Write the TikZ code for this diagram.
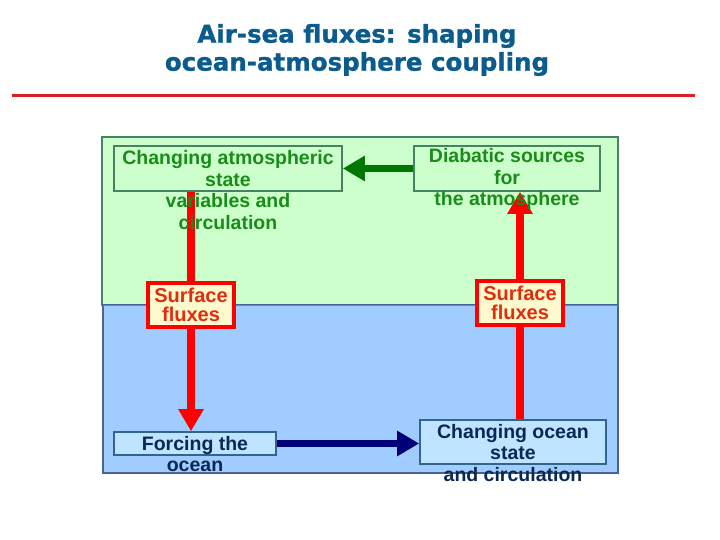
\documentclass[tikz,border=0pt]{standalone}
\usepackage{fontspec}
\setmainfont{Liberation Sans}
\newfontfamily\titlefont{DejaVu Sans}[BoldFeatures={FakeBold=1.2}]
\usetikzlibrary{arrows.meta}
\definecolor{titleblue}{RGB}{11,92,140}
\definecolor{rulered}{RGB}{220,30,30}
\definecolor{airfill}{RGB}{204,255,204}
\definecolor{airborder}{RGB}{70,130,100}
\definecolor{airtext}{RGB}{25,140,25}
\definecolor{seafill}{RGB}{160,204,255}
\definecolor{seaborder}{RGB}{70,100,150}
\definecolor{seabox}{RGB}{190,228,255}
\definecolor{seaboxborder}{RGB}{50,100,140}
\definecolor{seatext}{RGB}{10,40,85}
\definecolor{fluxfill}{RGB}{255,250,205}
\definecolor{fluxtext}{RGB}{225,45,15}
\definecolor{divider}{RGB}{200,100,110}
\definecolor{arrgreen}{RGB}{0,120,0}
\definecolor{arrnavy}{RGB}{0,0,120}
\pgfdeclarelayer{bg}
\pgfdeclarelayer{mid}
\pgfsetlayers{bg,mid,main}
\tikzset{
  airbox/.style={draw=airborder, line width=1.6pt, fill=none, inner sep=0pt},
  seaboxst/.style={draw=seaboxborder, line width=1.6pt, fill=seabox, inner sep=0pt},
  fluxbox/.style={draw=red, line width=4pt, fill=fluxfill, inner sep=0pt, align=center,
     text=fluxtext, font=\fontsize{20}{19}\selectfont\bfseries},
  bodytext/.style={inner sep=0pt, align=center, font=\fontsize{19.5}{21.5}\selectfont\bfseries},
  thickarrow/.style={line width=7.5pt, -{Triangle[length=22pt,width=24pt]}},
}
\begin{document}
\begin{tikzpicture}[x=1pt,y=-1pt]
\useasboundingbox (0,0) rectangle (720,540);
% title
\node[inner sep=0pt, align=center, text=titleblue,
      font=\titlefont\fontsize{24.5}{28}\selectfont\bfseries] (title) at (357,50)
  {Air-sea fluxes: shaping\\ocean-atmosphere coupling};
\draw[rulered, line width=3pt] (12,96) coordinate (r1) -- (695,96) coordinate (r2);
% regions
\begin{pgfonlayer}{bg}
\draw[fill=airfill, draw=airborder, line width=1.2pt] (102,137) rectangle (618,305);
\draw[fill=seafill, draw=seaborder, line width=1.2pt] (103,305) rectangle (618,473);
\draw[divider, line width=1pt] (103,305) -- (618,305);
\end{pgfonlayer}
% boxes
\node[airbox, minimum width=228pt, minimum height=45pt] (atm) at (228,168.5) {};
\node[airbox, minimum width=186pt, minimum height=45pt] (diab) at (507,168.5) {};
\node[seaboxst, minimum width=162pt, minimum height=23pt] (forc) at (195,443.5) {};
\node[seaboxst, minimum width=186pt, minimum height=44pt] (ocean) at (513,442) {};
\node[fluxbox, minimum width=86pt, minimum height=44pt] (fluxL) at (191,305) {Surface\\fluxes};
\node[fluxbox, minimum width=86pt, minimum height=44pt] (fluxR) at (520,302.5) {Surface\\fluxes};
% texts
\node[bodytext, text=airtext] (atmT) at (228,190) {Changing atmospheric\\state\\variables and\\circulation};
\node[bodytext, text=airtext] (diabT) at (507,179) {Diabatic sources\\for\\the atmosphere};
\node[bodytext, text=seatext] (forcT) at (195,454) {Forcing the\\ocean};
\node[bodytext, text=seatext] (oceanT) at (513,453) {Changing ocean\\state\\and circulation};
% arrows
\begin{pgfonlayer}{mid}
\draw[thickarrow, red] (atm.south -| fluxL) -- (forc.north -| fluxL);
\draw[thickarrow, red] (ocean.north -| fluxR) -- (diab.south -| fluxR);
\end{pgfonlayer}
\draw[thickarrow, arrgreen] (diab.west) -- (atm.east);
\draw[thickarrow, arrnavy] (forc.east) -- (forc.east -| ocean.west);
\end{tikzpicture}
\end{document}
